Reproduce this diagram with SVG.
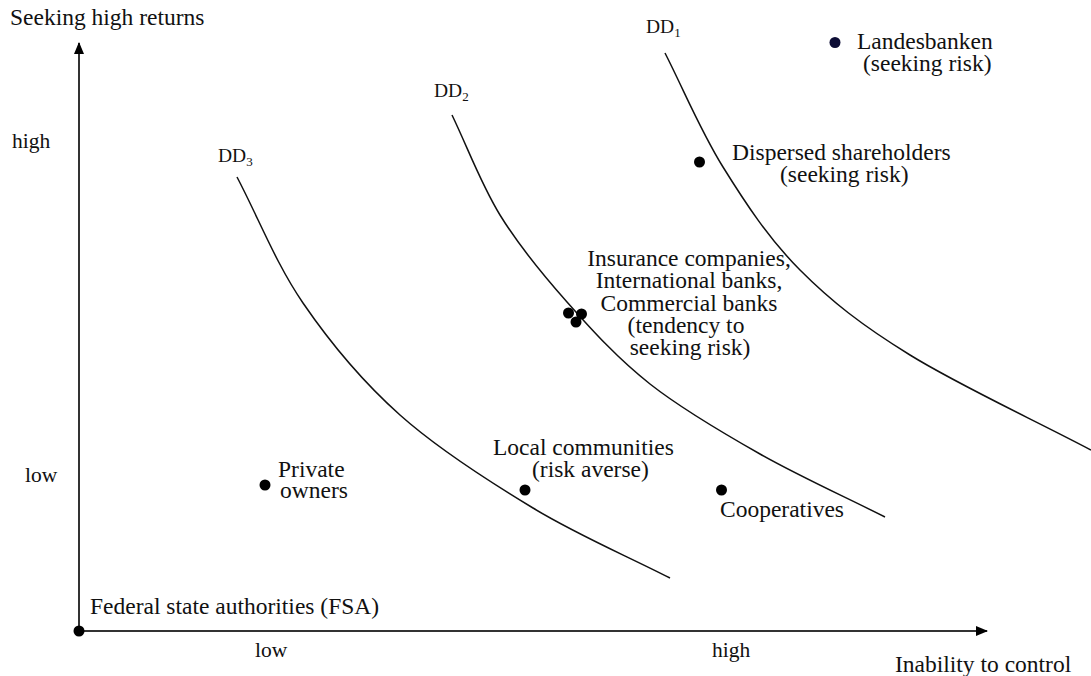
<svg xmlns="http://www.w3.org/2000/svg" width="1091" height="676" viewBox="0 0 1091 676">
<style>
text{font-family:"Liberation Serif","Times New Roman",serif;fill:#111}
.t{font-size:23.5px}
.tick{font-size:21.5px}
.dd{font-size:19.5px}
.sub{font-size:13px}
.curve{fill:none;stroke:#111;stroke-width:1.5}
.axis{fill:none;stroke:#333;stroke-width:2}
.dot{fill:#000}
</style>
<defs>
<marker id="arr" markerWidth="12" markerHeight="10" refX="11" refY="5" orient="auto" markerUnits="userSpaceOnUse">
<path d="M0,0 L12,5 L0,10 Z" fill="#000"/>
</marker>
</defs>
<rect width="1091" height="676" fill="#fff"/>
<g id="axes">
<line class="axis" x1="79" y1="631" x2="79" y2="43" marker-end="url(#arr)"/>
<line class="axis" x1="79" y1="631" x2="987" y2="631" marker-end="url(#arr)"/>
<text class="t" x="10" y="25">Seeking high returns</text>
<text class="t" x="895" y="672">Inability to control</text>
<text class="tick" x="12" y="148">high</text>
<text class="tick" x="25" y="482">low</text>
<text class="tick" x="255" y="657">low</text>
<text class="tick" x="712" y="657">high</text>
</g>
<g id="connectors">
<path id="dd1" class="curve" d="M665,53 C684.3,91 700.5,130.8 723,167 C745.5,203.2 768.8,238.7 800,270 C831.2,301.3 861.5,325 910,355 C958.5,385 1030.7,418.3 1091,450"/>
<path id="dd2" class="curve" d="M452,115 C468,148.3 480.8,183.8 500,215 C519.2,246.2 542,273.8 567,302 C592,330.2 617.8,358.7 650,384 C682.2,409.3 720.8,431.8 760,454 C799.2,476.2 843.3,496 885,517"/>
<path id="dd3" class="curve" d="M237,177 C259,219 275.8,263.3 303,303 C330.2,342.7 361.7,380.8 400,415 C438.3,449.2 488,480.8 533,508 C578,535.2 624.3,554.7 670,578"/>
</g>
<g id="dd-labels">
<text class="dd" x="646" y="33">DD<tspan class="sub" dy="4">1</tspan></text>
<text class="dd" x="434" y="97">DD<tspan class="sub" dy="4">2</tspan></text>
<text class="dd" x="218" y="162">DD<tspan class="sub" dy="4">3</tspan></text>
</g>
<g id="node-fsa">
<circle class="dot" cx="79" cy="631" r="5.5"/>
<text class="t" x="90" y="614">Federal state authorities (FSA)</text>
</g>
<g id="node-private">
<circle class="dot" cx="265" cy="485" r="5.5"/>
<text class="t" x="278" y="477">Private</text>
<text class="t" x="280" y="498">owners</text>
</g>
<g id="node-local">
<circle class="dot" cx="525" cy="490" r="5.5"/>
<text class="t" x="493" y="455">Local communities</text>
<text class="t" x="532" y="477">(risk averse)</text>
</g>
<g id="node-coop">
<circle class="dot" cx="721.5" cy="490" r="5.5"/>
<text class="t" x="720" y="517">Cooperatives</text>
</g>
<g id="node-insurance">
<circle class="dot" cx="568.5" cy="313" r="5.5"/>
<circle class="dot" cx="581.5" cy="314" r="5.5"/>
<circle class="dot" cx="576" cy="322" r="5.5"/>
<g text-anchor="middle">
<text class="t" x="689" y="266">Insurance companies,</text>
<text class="t" x="689" y="288">International banks,</text>
<text class="t" x="689" y="311">Commercial banks</text>
<text class="t" x="686" y="333">(tendency to</text>
<text class="t" x="690" y="355">seeking risk)</text>
</g>
</g>
<g id="node-dispersed">
<circle class="dot" cx="699.5" cy="162" r="5.5"/>
<text class="t" x="732" y="160">Dispersed shareholders</text>
<text class="t" x="780" y="182">(seeking risk)</text>
</g>
<g id="node-landesbanken">
<circle cx="835" cy="42.5" r="5.5" fill="#0d0d35"/>
<text class="t" x="857" y="49">Landesbanken</text>
<text class="t" x="863" y="71">(seeking risk)</text>
</g>
</svg>
